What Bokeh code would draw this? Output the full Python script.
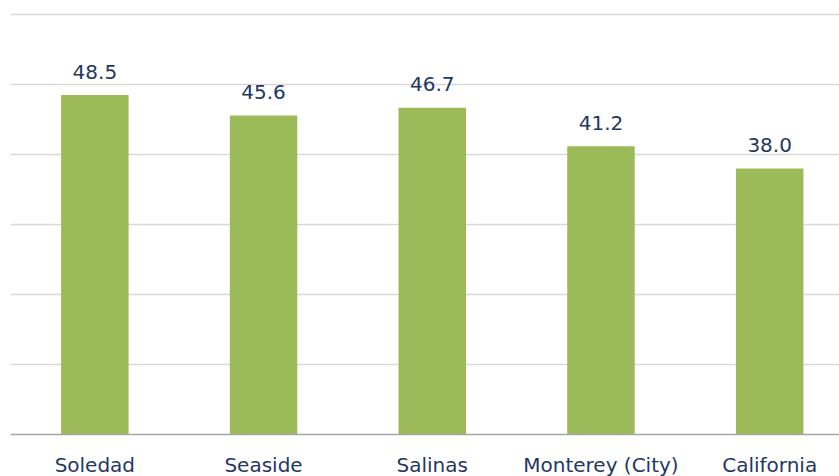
from bokeh.plotting import figure
from bokeh.models import ColumnDataSource, Range1d, FixedTicker, LabelSet
from bokeh.core.properties import value
from bokeh.embed import file_html
from bokeh.resources import INLINE

categories = ["Soledad", "Seaside", "Salinas", "Monterey (City)", "California"]
values = [48.5, 45.6, 46.7, 41.2, 38.0]
labels = ["48.5", "45.6", "46.7", "41.2", "38.0"]
grid_ticks = [10, 20, 30, 40, 50, 60]

positions = list(range(len(categories)))
source = ColumnDataSource(dict(x=positions, top=values, label=labels))

p = figure(frame_width=829, frame_height=422, output_backend="svg", toolbar_location=None,
           x_range=Range1d(-0.5, 4.414), y_range=Range1d(0, 60.3),
           min_border_left=10, min_border_right=0, min_border_top=12, min_border_bottom=0)

p.vbar(x="x", top="top", width=0.4, source=source, color="#9BBB59", line_color=None)

lab = LabelSet(x="x", y="top", text="label", source=source, text_align="center",
               text_baseline="alphabetic", y_offset=16.5, text_font=value("DejaVu Sans"),
               text_font_size="20px", text_color="#1F3864")
p.add_layout(lab)

p.yaxis.visible = False
p.xgrid.visible = False
p.ygrid.ticker = FixedTicker(ticks=grid_ticks)
p.ygrid.grid_line_color = "#D9D9D9"
p.ygrid.grid_line_width = 1.5
p.outline_line_color = None

p.xaxis.ticker = FixedTicker(ticks=positions)
p.xaxis.major_label_overrides = {i: c for i, c in zip(positions, categories)}
p.xaxis.major_tick_line_color = None
p.xaxis.major_tick_out = 0
p.xaxis.minor_tick_line_color = None
p.xaxis.axis_line_color = "#A6A6A6"
p.xaxis.axis_line_width = 1.5
p.xaxis.major_label_standoff = 18
p.xaxis.major_label_text_font = "DejaVu Sans"
p.xaxis.major_label_text_font_size = "20px"
p.xaxis.major_label_text_color = "#1F3864"

open("out.html", "w").write(file_html(p, INLINE))
